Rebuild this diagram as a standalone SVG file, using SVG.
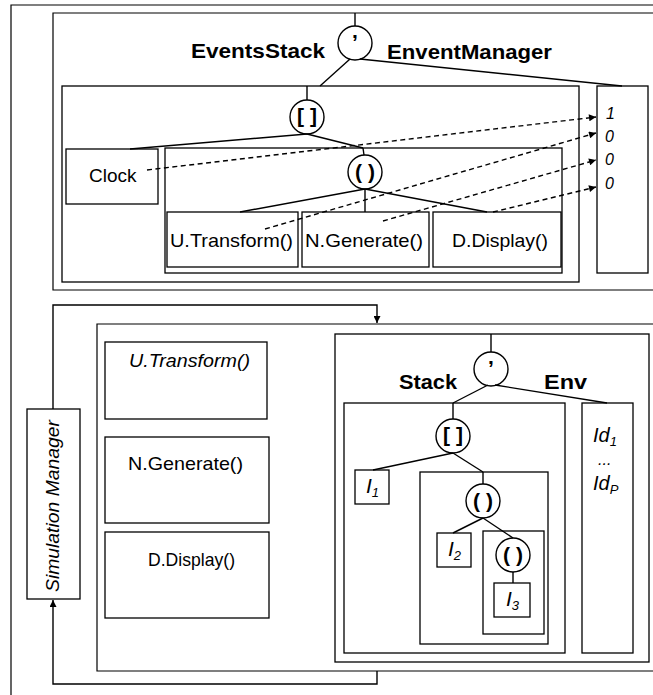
<svg xmlns="http://www.w3.org/2000/svg" width="653" height="695" viewBox="0 0 653 695">
<defs>
<style>
.frame{fill:none;stroke:#000;stroke-width:1.2}
.box{fill:#fff;stroke:#000;stroke-width:1.3}
.bx{fill:none;stroke:#000;stroke-width:1.3}
.ln{fill:none;stroke:#000;stroke-width:1.4}
.dash{fill:none;stroke:#000;stroke-width:1.4;stroke-dasharray:5,3.5}
.circ{fill:#fff;stroke:#000;stroke-width:1.4}
.t{font-family:"Liberation Sans",Arial,sans-serif;font-size:19px;fill:#000}
.ti{font-family:"Liberation Sans",Arial,sans-serif;font-size:19px;font-style:italic;fill:#000}
.tb{font-family:"Liberation Sans",Arial,sans-serif;font-size:21px;font-weight:bold;fill:#000}
.sym{font-family:"Liberation Sans",Arial,sans-serif;font-size:21px;font-weight:bold;fill:#000;text-anchor:middle}
</style>
<marker id="ah" viewBox="0 0 10 10" refX="10" refY="5" markerWidth="8" markerHeight="7" markerUnits="userSpaceOnUse" orient="auto">
<path d="M0,0 L10,5 L0,10 z" fill="#000"/>
</marker>
</defs>
<rect width="653" height="695" fill="#fff"/>

<!-- frames -->
<g id="frames">
<path class="frame" d="M11,700 V5 H660"/>
<path class="frame" d="M660,13 H53 V290 H660"/>
<path class="frame" d="M660,324 H97 V671 H660"/>
</g>

<!-- top section -->
<g id="top-comma">
<circle class="circ" cx="355" cy="43" r="17"/>
<text class="sym" x="355" y="38">,</text>
</g>
<text class="tb" x="191" y="58" textLength="134" lengthAdjust="spacingAndGlyphs">EventsStack</text>
<text class="tb" x="387" y="59" textLength="165" lengthAdjust="spacingAndGlyphs">EnventManager</text>

<g id="events-stack">
<rect class="bx" x="62" y="86" width="517" height="196"/>
</g>
<g id="event-manager">
<rect class="box" x="597" y="86" width="51" height="187"/>
<text class="ti" x="606" y="119" style="font-size:16px">1</text>
<text class="ti" x="605" y="142" style="font-size:16px">0</text>
<text class="ti" x="605" y="165" style="font-size:16px">0</text>
<text class="ti" x="605" y="189" style="font-size:16px">0</text>
</g>
<g id="top-stackop">
<circle class="circ" cx="307" cy="117" r="17"/>
<text class="sym" x="307" y="123">[ ]</text>
</g>
<g id="clock">
<rect class="box" x="66" y="149" width="92" height="55"/>
<text class="t" x="89" y="182">Clock</text>
</g>
<g id="seq-box">
<rect class="bx" x="165" y="148" width="397" height="125"/>
</g>
<g id="top-seq">
<circle class="circ" cx="365" cy="172" r="17"/>
<text class="sym" x="365" y="179">( )</text>
</g>
<g id="top-utransform">
<rect class="box" x="167" y="212" width="131" height="55"/>
<text class="t" x="170" y="247" textLength="123" lengthAdjust="spacingAndGlyphs">U.Transform()</text>
</g>
<g id="top-ngenerate">
<rect class="box" x="302" y="212" width="127" height="55"/>
<text class="t" x="305" y="247" textLength="118" lengthAdjust="spacingAndGlyphs">N.Generate()</text>
</g>
<g id="top-ddisplay">
<rect class="box" x="433" y="212" width="128" height="55"/>
<text class="t" x="452" y="247" textLength="96" lengthAdjust="spacingAndGlyphs">D.Display()</text>
</g>

<!-- bottom section -->
<g id="sim-manager">
<rect class="box" x="27" y="409" width="53" height="190"/>
<text class="ti" transform="translate(59,506) rotate(-90)" text-anchor="middle" textLength="172" lengthAdjust="spacingAndGlyphs">Simulation Manager</text>
</g>
<g id="methods-box">
<rect class="bx" x="105" y="342" width="162" height="77"/>
<text class="ti" x="129" y="367" textLength="121" lengthAdjust="spacingAndGlyphs">U.Transform()</text>
</g>
<g id="low-ngenerate">
<rect class="bx" x="105" y="437" width="164" height="86"/>
<text class="t" x="128" y="470" textLength="115" lengthAdjust="spacingAndGlyphs">N.Generate()</text>
</g>
<g id="low-ddisplay">
<rect class="bx" x="105" y="532" width="164" height="86"/>
<text class="t" x="148" y="566" textLength="87" lengthAdjust="spacingAndGlyphs">D.Display()</text>
</g>
<g id="state-box">
<rect class="bx" x="335" y="334" width="314" height="328"/>
</g>
<g id="low-comma">
<circle class="circ" cx="491" cy="369" r="17"/>
<text class="sym" x="491" y="364">,</text>
</g>
<text class="tb" x="399" y="389" textLength="58" lengthAdjust="spacingAndGlyphs">Stack</text>
<text class="tb" x="544" y="389" textLength="43" lengthAdjust="spacingAndGlyphs">Env</text>
<g id="stack-box">
<rect class="bx" x="344" y="403" width="221" height="250"/>
</g>
<g id="env-box">
<rect class="bx" x="582" y="403" width="51" height="250"/>
<text class="ti" x="593" y="442" style="font-size:20px">Id<tspan dy="4" style="font-size:13px">1</tspan></text>
<text class="ti" x="598" y="465" style="font-size:16px">...</text>
<text class="ti" x="593" y="490" style="font-size:20px">Id<tspan dy="4" style="font-size:13px">P</tspan></text>
</g>
<g id="low-stackop">
<circle class="circ" cx="453" cy="436" r="17"/>
<text class="sym" x="453" y="442">[ ]</text>
</g>
<g id="i1">
<rect class="box" x="355" y="470" width="34" height="34"/>
<text class="ti" x="366" y="493" style="font-size:21px">I<tspan dy="4" style="font-size:13px">1</tspan></text>
</g>
<g id="seq2-box">
<rect class="bx" x="420" y="472" width="128" height="172"/>
</g>
<g id="seq2">
<circle class="circ" cx="483" cy="501" r="17"/>
<text class="sym" x="483" y="508">( )</text>
</g>
<g id="i2">
<rect class="box" x="437" y="533" width="34" height="34"/>
<text class="ti" x="448" y="556" style="font-size:21px">I<tspan dy="4" style="font-size:13px">2</tspan></text>
</g>
<g id="seq3-box">
<rect class="bx" x="483" y="531" width="61" height="103"/>
</g>
<g id="seq3">
<circle class="circ" cx="513" cy="555" r="17"/>
<text class="sym" x="513" y="562">( )</text>
</g>
<g id="i3">
<rect class="box" x="494" y="583" width="36" height="34"/>
<text class="ti" x="506" y="606" style="font-size:21px">I<tspan dy="4" style="font-size:13px">3</tspan></text>
</g>

<!-- connectors -->
<g id="connectors">
<line class="ln" x1="355" y1="13" x2="355" y2="26"/>
<line class="ln" x1="350" y1="59" x2="320" y2="86"/>
<line class="ln" x1="360" y1="59" x2="622" y2="86"/>
<line class="ln" x1="307" y1="86" x2="307" y2="100"/>
<line class="ln" x1="307" y1="134" x2="130" y2="149"/>
<line class="ln" x1="307" y1="134" x2="363" y2="148"/>
<line class="ln" x1="363" y1="148" x2="364" y2="155"/>
<line class="ln" x1="365" y1="189" x2="240" y2="212"/>
<line class="ln" x1="365" y1="189" x2="365" y2="212"/>
<line class="ln" x1="365" y1="189" x2="487" y2="212"/>
<line class="dash" x1="147" y1="170" x2="596" y2="117" marker-end="url(#ah)"/>
<line class="dash" x1="265" y1="229" x2="596" y2="133" marker-end="url(#ah)"/>
<line class="dash" x1="383" y1="221" x2="596" y2="160" marker-end="url(#ah)"/>
<line class="dash" x1="493" y1="212" x2="596" y2="187" marker-end="url(#ah)"/>

<path class="ln" d="M53,409 V305 H377 V323" marker-end="url(#ah)"/>
<path class="ln" d="M377,671 V684 H53 V600" marker-end="url(#ah)"/>

<line class="ln" x1="491" y1="334" x2="491" y2="352"/>
<line class="ln" x1="488" y1="385" x2="453" y2="403"/>
<line class="ln" x1="495" y1="385" x2="607" y2="403"/>
<line class="ln" x1="453" y1="403" x2="453" y2="419"/>
<line class="ln" x1="453" y1="453" x2="373" y2="470"/>
<line class="ln" x1="453" y1="453" x2="483" y2="472"/>
<line class="ln" x1="483" y1="472" x2="483" y2="484"/>
<line class="ln" x1="483" y1="518" x2="453" y2="533"/>
<line class="ln" x1="483" y1="518" x2="513" y2="538"/>
<line class="ln" x1="513" y1="572" x2="513" y2="583"/>
</g>
</svg>
